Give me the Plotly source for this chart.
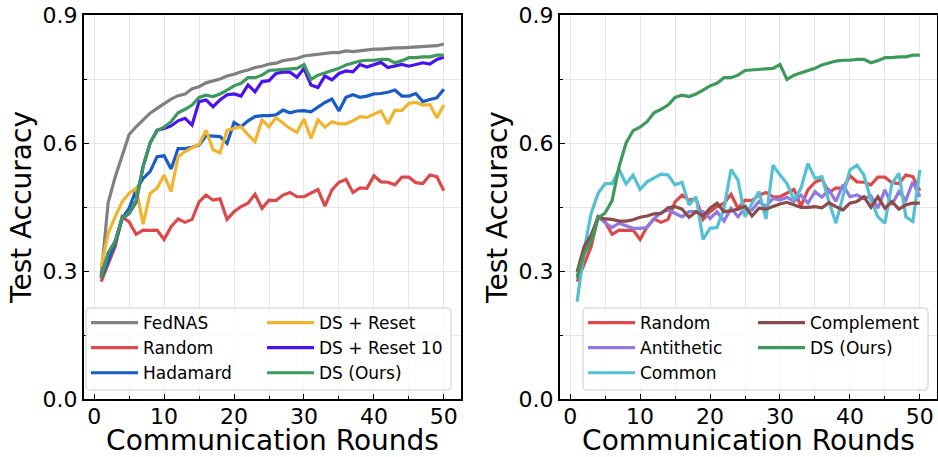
import plotly.graph_objects as go

# ---------------- data ----------------
rounds = list(range(1, 51))

fednas = [0.287, 0.46, 0.52, 0.568, 0.62, 0.638, 0.654, 0.67, 0.681, 0.693,
          0.703, 0.711, 0.715, 0.727, 0.732, 0.741, 0.745, 0.75, 0.757, 0.761,
          0.767, 0.771, 0.777, 0.78, 0.785, 0.787, 0.793, 0.796, 0.798, 0.804,
          0.806, 0.809, 0.81, 0.812, 0.812, 0.816, 0.814, 0.816, 0.818, 0.82,
          0.82, 0.822, 0.823, 0.823, 0.824, 0.826, 0.827, 0.827, 0.828, 0.832]

random_mask = [0.275, 0.318, 0.357, 0.427, 0.415, 0.386, 0.396, 0.395, 0.396, 0.374,
               0.404, 0.422, 0.414, 0.421, 0.462, 0.478, 0.466, 0.469, 0.421, 0.439,
               0.451, 0.459, 0.48, 0.447, 0.466, 0.465, 0.478, 0.484, 0.474, 0.474,
               0.482, 0.491, 0.452, 0.49, 0.508, 0.515, 0.484, 0.495, 0.494, 0.523,
               0.509, 0.508, 0.502, 0.52, 0.52, 0.507, 0.505, 0.525, 0.521, 0.488]

hadamard = [0.284, 0.322, 0.365, 0.423, 0.447, 0.49, 0.517, 0.533, 0.568, 0.57,
            0.539, 0.587, 0.587, 0.59, 0.595, 0.617, 0.616, 0.615, 0.599, 0.648,
            0.638, 0.652, 0.662, 0.664, 0.664, 0.666, 0.677, 0.671, 0.675, 0.676,
            0.673, 0.685, 0.695, 0.703, 0.675, 0.707, 0.713, 0.707, 0.71, 0.715,
            0.716, 0.719, 0.724, 0.71, 0.71, 0.716, 0.697, 0.702, 0.706, 0.726]

ds_reset = [0.31, 0.388, 0.427, 0.462, 0.482, 0.494, 0.41, 0.482, 0.494, 0.525,
            0.486, 0.568, 0.58, 0.589, 0.597, 0.63, 0.584, 0.577, 0.63, 0.634,
            0.638, 0.619, 0.603, 0.654, 0.638, 0.659, 0.646, 0.634, 0.625, 0.656,
            0.611, 0.654, 0.637, 0.65, 0.645, 0.645, 0.652, 0.662, 0.66, 0.667,
            0.675, 0.645, 0.677, 0.676, 0.693, 0.695, 0.689, 0.69, 0.659, 0.689]

ds_reset10 = [0.284, 0.341, 0.369, 0.423, 0.435, 0.462, 0.545, 0.6, 0.63, 0.634,
              0.64, 0.652, 0.658, 0.642, 0.697, 0.701, 0.685, 0.701, 0.713, 0.715,
              0.71, 0.736, 0.72, 0.744, 0.746, 0.763, 0.766, 0.766, 0.754, 0.775,
              0.736, 0.73, 0.757, 0.748, 0.763, 0.769, 0.767, 0.784, 0.778, 0.784,
              0.789, 0.777, 0.781, 0.784, 0.78, 0.784, 0.788, 0.785, 0.796, 0.801]

ds_ours = [0.284, 0.341, 0.369, 0.424, 0.436, 0.465, 0.545, 0.6, 0.629, 0.637,
           0.65, 0.671, 0.679, 0.689, 0.707, 0.712, 0.709, 0.715, 0.724, 0.734,
           0.74, 0.753, 0.753, 0.759, 0.77, 0.771, 0.773, 0.773, 0.775, 0.784,
           0.749, 0.759, 0.765, 0.769, 0.775, 0.783, 0.788, 0.792, 0.794, 0.794,
           0.796, 0.796, 0.788, 0.793, 0.8, 0.8, 0.802, 0.802, 0.806, 0.806]

antithetic = [0.287, 0.341, 0.373, 0.427, 0.413, 0.402, 0.412, 0.405, 0.4, 0.4,
              0.402, 0.423, 0.437, 0.443, 0.435, 0.427, 0.439, 0.439, 0.439, 0.423,
              0.439, 0.417, 0.447, 0.427, 0.447, 0.443, 0.463, 0.451, 0.47, 0.466,
              0.473, 0.463, 0.478, 0.459, 0.486, 0.473, 0.49, 0.463, 0.502, 0.474,
              0.478, 0.47, 0.476, 0.447, 0.49, 0.455, 0.486, 0.466, 0.509, 0.474]

common = [0.228, 0.349, 0.435, 0.482, 0.505, 0.505, 0.538, 0.504, 0.525, 0.491,
          0.509, 0.517, 0.527, 0.525, 0.502, 0.508, 0.455, 0.474, 0.374, 0.4,
          0.402, 0.447, 0.538, 0.513, 0.427, 0.459, 0.486, 0.422, 0.548, 0.525,
          0.505, 0.466, 0.494, 0.552, 0.517, 0.521, 0.463, 0.412, 0.474, 0.537,
          0.548, 0.525, 0.466, 0.427, 0.412, 0.505, 0.529, 0.427, 0.416, 0.537]

complement = [0.298, 0.357, 0.384, 0.426, 0.422, 0.421, 0.417, 0.417, 0.42, 0.426,
              0.429, 0.434, 0.435, 0.448, 0.451, 0.445, 0.426, 0.439, 0.429, 0.447,
              0.459, 0.439, 0.441, 0.445, 0.452, 0.429, 0.447, 0.445, 0.451, 0.457,
              0.461, 0.455, 0.449, 0.449, 0.451, 0.448, 0.46, 0.451, 0.443, 0.459,
              0.463, 0.474, 0.449, 0.474, 0.447, 0.463, 0.445, 0.455, 0.459, 0.459]

y_ticks = [0.0, 0.3, 0.6, 0.9]
y_tick_text = ["0.0", "0.3", "0.6", "0.9"]
x_ticks = [0, 10, 20, 30, 40, 50]

# ---------------- styling ----------------
W, H = 938, 457
ML, MR, MT, MB = 84, 1, 15, 58
PW, PH = W - ML - MR, H - MT - MB
FONT = "DejaVu Sans"
LW = 3.2

C_GRAY = "#808080"
C_RED = "#db4a4b"
C_BLUE = "#1a5cc6"
C_YELLOW = "#f0b530"
C_VIOLET = "#4a12ef"
C_GREEN = "#3d9a5c"
C_CYAN = "#55c0d4"
C_LAVENDER = "#9079e0"
C_BROWN = "#8c4b4b"

left_series = [
    ("FedNAS", fednas, C_GRAY, "legend", 1),
    ("Random", random_mask, C_RED, "legend", 2),
    ("Hadamard", hadamard, C_BLUE, "legend", 3),
    ("DS + Reset", ds_reset, C_YELLOW, "legend2", 1),
    ("DS + Reset 10", ds_reset10, C_VIOLET, "legend2", 2),
    ("DS (Ours)", ds_ours, C_GREEN, "legend2", 3),
]
right_series = [
    ("Random", random_mask, C_RED, "legend3", 1),
    ("Antithetic", antithetic, C_LAVENDER, "legend3", 2),
    ("Common", common, C_CYAN, "legend3", 3),
    ("Complement", complement, C_BROWN, "legend4", 1),
    ("DS (Ours)", ds_ours, C_GREEN, "legend4", 2),
]

fig = go.Figure()
for name, vals, color, leg, rank in left_series:
    fig.add_trace(go.Scatter(x=rounds, y=vals, mode="lines", name=name,
                             line=dict(color=color, width=LW),
                             legend=leg, legendrank=rank,
                             xaxis="x", yaxis="y"))
for name, vals, color, leg, rank in right_series:
    fig.add_trace(go.Scatter(x=rounds, y=vals, mode="lines", name=name,
                             line=dict(color=color, width=LW),
                             legend=leg, legendrank=rank,
                             xaxis="x2", yaxis="y2"))

grid = "#e6e6e6"
xaxis_style = dict(
    range=[-1.45, 52.45], tickvals=x_ticks, showline=True, linecolor="black",
    linewidth=2, mirror=True, ticks="inside", ticklen=5, tickwidth=1.2,
    tickcolor="black", showgrid=True, gridcolor=grid, gridwidth=1,
    zeroline=False, automargin=False, ticklabelstandoff=-3,
    tickfont=dict(family=FONT, size=22, color="black"),
    title=dict(text="Communication Rounds",
               font=dict(family=FONT, size=28, color="black"), standoff=10),
    minor=dict(dtick=5, tick0=0, ticks="inside", ticklen=3, tickcolor="black",
               showgrid=True, gridcolor=grid, gridwidth=1),
)
yaxis_style = dict(
    range=[0, 0.9], tickvals=y_ticks, ticktext=y_tick_text, showline=True,
    linecolor="black", linewidth=2, mirror=True, ticks="inside", ticklen=5,
    tickwidth=1.2, tickcolor="black", showgrid=True, gridcolor=grid,
    gridwidth=1, zeroline=False, automargin=False,
    tickfont=dict(family=FONT, size=22, color="black"),
    title=dict(text="Test Accuracy",
               font=dict(family=FONT, size=28, color="black"), standoff=3),
    minor=dict(dtick=0.15, tick0=0, ticks="inside", ticklen=3,
               tickcolor="black", showgrid=True, gridcolor=grid, gridwidth=1),
)

x1_dom = [0, (461 - ML) / PW]
x2_dom = [(560 - ML) / PW, 1]

fig.update_layout(
    width=W, height=H, margin=dict(l=ML, r=MR, t=MT, b=MB, autoexpand=False),
    paper_bgcolor="white", plot_bgcolor="white",
    font=dict(family=FONT, color="black"),
    xaxis=dict(domain=x1_dom, anchor="y", **xaxis_style),
    yaxis=dict(domain=[0, 1], anchor="x", **yaxis_style),
    xaxis2=dict(domain=x2_dom, anchor="y2", **xaxis_style),
    yaxis2=dict(domain=[0, 1], anchor="x2", **yaxis_style),
)


def px2paper(px, py):
    return (px - ML) / PW, (H - MB - py) / PH


def legend_at(px, py_top):
    u, v = px2paper(px, py_top)
    return dict(x=u, y=v, xref="paper", yref="paper",
                xanchor="left", yanchor="top", bgcolor="rgba(0,0,0,0)",
                borderwidth=0, itemwidth=47, tracegroupgap=0,
                font=dict(family=FONT, size=17, color="black"))


fig.update_layout(
    legend=legend_at(86, 305),
    legend2=legend_at(262, 305),
    legend3=legend_at(583, 305),
    legend4=legend_at(753, 305),
)


def rounded_box(x0, y0, x1, y1, r=4):
    def p(x, y):
        u, v = px2paper(x, y)
        return f"{u:.5f},{v:.5f}"
    path = (f"M{p(x0 + r, y0)} L{p(x1 - r, y0)} Q{p(x1, y0)} {p(x1, y0 + r)} "
            f"L{p(x1, y1 - r)} Q{p(x1, y1)} {p(x1 - r, y1)} "
            f"L{p(x0 + r, y1)} Q{p(x0, y1)} {p(x0, y1 - r)} "
            f"L{p(x0, y0 + r)} Q{p(x0, y0)} {p(x0 + r, y0)} Z")
    return dict(type="path", path=path, xref="paper", yref="paper",
                fillcolor="rgba(255,255,255,0.8)",
                line=dict(color="#cccccc", width=1), layer="above")


fig.update_layout(shapes=[rounded_box(86, 308, 451, 390),
                          rounded_box(583, 308, 928, 390)])

fig.write_html("out.html")
